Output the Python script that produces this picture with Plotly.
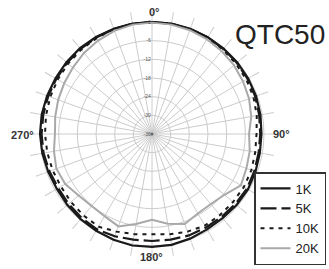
import plotly.graph_objects as go

W, H = 329, 269

angles = list(range(0, 360, 10))

k1 = [0, 0, 0, -0.1, -0.2, -0.2, -0.3, -0.4, -0.6, -0.8, -0.8, -0.6,
      -0.4, -0.5, -0.7, -0.6, -0.2, 0.2, 0.3, 0.4, 0.2, -0.1, -0.3, -0.5,
      -0.7, -0.5, -0.2, 0, 0, -0.1, -0.2, -0.1, 0, 0, 0, 0]
k5 = [0, 0, -0.1, -0.2, -0.3, -0.4, -0.5, -0.7, -1.0, -1.2, -1.2, -1.0,
      -0.8, -1.0, -1.2, -1.3, -1.3, -1.5, -1.6, -1.5, -1.0, -0.6, -0.8, -1.0,
      -1.2, -0.9, -0.6, -0.5, -0.5, -0.5, -0.5, -0.4, -0.3, -0.2, -0.1, 0]
k10 = [0, -0.1, -0.2, -0.4, -0.6, -0.8, -1.0, -1.3, -1.8, -2.4, -2.3, -2.0,
       -1.9, -2.0, -2.0, -2.0, -2.6, -3.3, -3.8, -3.3, -2.6, -1.6, -1.8, -2.0,
       -2.2, -2.0, -1.8, -1.6, -1.4, -1.2, -1.0, -0.8, -0.6, -0.4, -0.2, -0.1]
k20 = [-0.2, -0.3, -0.5, -0.8, -1.2, -1.6, -2.2, -2.8, -3.6, -4.8, -4.1, -3.7,
       -3.0, -5.6, -6.6, -6.5, -5.2, -6.7, -8.4, -6.6, -4.4, -5.5, -5.8, -5.2,
       -3.8, -3.3, -4.0, -4.8, -4.4, -3.9, -3.4, -2.8, -2.0, -1.3, -0.7, -0.3]

ring_vals = [0, -6, -12, -18, -24, -30, -36]
ring_text = ["0", "-6", "-12", "-18", "-24", "-30", "-36"]

series = [
    ("1K", k1, dict(color="#1a1a1a", width=2.2, dash="solid")),
    ("5K", k5, dict(color="#1a1a1a", width=2.2, dash="16px,5px")),
    ("10K", k10, dict(color="#1a1a1a", width=2.0, dash="4px,5px")),
    ("20K", k20, dict(color="#a9a9a9", width=2, dash="solid")),
]

fig = go.Figure()
for name, vals, line in series:
    fig.add_trace(go.Scatterpolar(
        r=vals + [vals[0]], theta=angles + [angles[0]], mode="lines",
        name=name, line=line))

fig.add_trace(go.Scatterpolar(r=[-36], theta=[0], mode="markers",
                              marker=dict(size=3, color="#666"), showlegend=False))

cx, cy, R = 152, 134, 115.1
fig.update_layout(
    width=W, height=H, autosize=False,
    margin=dict(l=0, r=0, t=0, b=0),
    paper_bgcolor="white",
    font=dict(family="Liberation Sans, Arial, sans-serif", color="#222"),
    polar=dict(
        domain=dict(x=[(cx - R) / W, (cx + R) / W],
                    y=[(H - cy - R) / H, (H - cy + R) / H]),
        bgcolor="white",
        radialaxis=dict(range=[-36, 1], tickmode="array", tickvals=ring_vals,
                        ticktext=ring_text, angle=90, side="counterclockwise",
                        tickangle=90, showline=False, ticks="",
                        gridcolor="#cccccc", gridwidth=1,
                        tickfont=dict(size=5, color="#555")),
        angularaxis=dict(rotation=90, direction="clockwise",
                         tickmode="array", tickvals=angles,
                         showticklabels=False, ticks="outside", ticklen=8,
                         tickcolor="#cccccc", tickwidth=1,
                         showline=False, gridcolor="#cccccc", gridwidth=1),
    ),
    legend=dict(x=326 / W, y=4 / H, xanchor="right", yanchor="bottom",
                bordercolor="#333", borderwidth=1.5, bgcolor="white",
                font=dict(size=13, color="#222"), tracegroupgap=0),
    showlegend=True,
)

labels = [("0°", 154, 12), ("90°", 281, 134), ("180°", 151, 257), ("270°", 22, 135)]
for t, x, y in labels:
    fig.add_annotation(text="<b>" + t + "</b>", x=x / W, y=1 - y / H,
                       xref="paper", yref="paper",
                       showarrow=False, xanchor="center", yanchor="middle",
                       font=dict(size=11, color="#333"))
fig.add_annotation(text="QTC50", x=233 / W, y=1 - 35 / H, xref="paper", yref="paper",
                   showarrow=False, xanchor="left", yanchor="middle",
                   font=dict(size=28, color="#222"))

fig.write_html("out.html", config={"displayModeBar": False},
               post_script="document.body.style.margin='0px';")
